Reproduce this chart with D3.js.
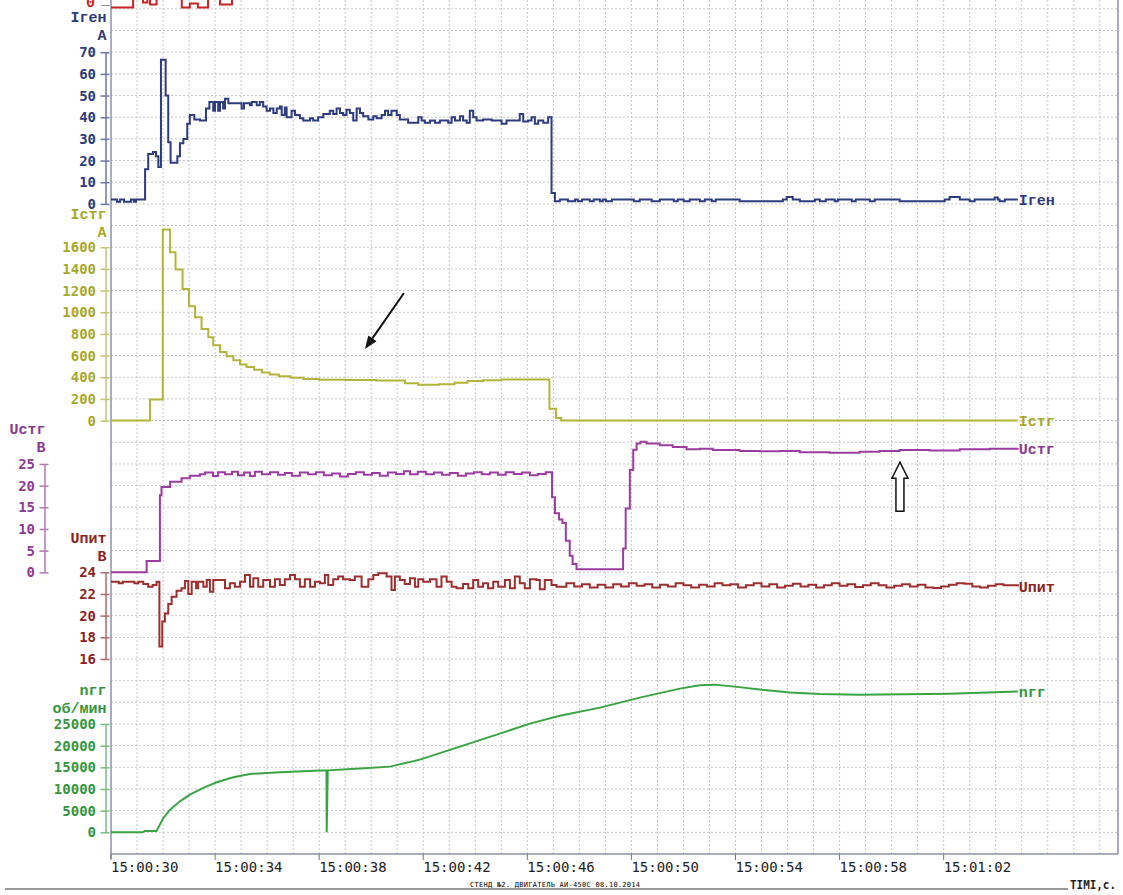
<!DOCTYPE html>
<html>
<head>
<meta charset="utf-8">
<script src="https://cdn.jsdelivr.net/npm/d3@7"></script>
<style>
  body { margin: 0; background: #fff; }
  svg { display: block; }
  .grid line { stroke: #c6c6c6; stroke-dasharray: 2,2; stroke-width: 1; }
  .ttl { font-family: "Liberation Mono", monospace; font-weight: bold; font-size: 15px; }
  .tk text { font-family: "DejaVu Sans Mono", monospace; font-weight: bold; font-size: 14px; }
  .time { font-family: "DejaVu Sans Mono", monospace; font-size: 14px; fill: #222; }
</style>
</head>
<body>
<script>
const width = 1123
const height = 895

/* Time in seconds after 15:00:30. */
const timeTicks = [0, 4, 8, 12, 16, 20, 24, 28, 32]
const timeLabels = ["15:00:30", "15:00:34", "15:00:38", "15:00:42", "15:00:46",
                    "15:00:50", "15:00:54", "15:00:58", "15:01:02"]

/* [time, value] pairs. */
const igen = [[0,2],[0.23,1],[0.35,2],[0.5,1],[0.77,2],[0.88,1],[0.96,2],[1.31,16],[1.43,23],[1.61,24],[1.73,22],[1.82,17],[1.92,66.5],[2.10,50],[2.20,28.5],[2.29,19],[2.55,22],[2.65,28],[2.78,30],[2.93,37],[3.03,41],[3.20,39],[3.42,38.5],[3.65,44],[3.78,47],[3.93,43],[4.0,47],[4.12,43],[4.19,47],[4.31,44],[4.38,48.5],[4.51,46.5],[5.02,44],[5.11,46.5],[5.34,45.5],[5.41,47],[5.6,45.5],[5.72,47],[5.85,45],[5.98,43],[6.11,44],[6.24,42],[6.37,44],[6.49,45],[6.56,41],[6.68,44.5],[6.75,40],[6.94,43],[7.07,41],[7.26,39.5],[7.39,38.5],[7.65,39.5],[7.77,38.5],[7.96,40],[8.16,41.5],[8.41,43],[8.54,41.5],[8.67,44],[8.8,42],[8.92,41],[9.05,43.5],[9.18,42],[9.31,38.5],[9.44,44],[9.57,42],[9.69,40.5],[9.89,39],[10.08,40.5],[10.21,39.5],[10.4,41],[10.53,43],[10.65,41],[10.78,43],[10.98,41],[11.1,39],[11.42,37.5],[11.81,40],[11.94,38.5],[12.06,37.5],[12.26,38.5],[12.45,37.5],[12.64,38.5],[12.96,37.5],[13.09,40],[13.22,38.5],[13.41,40.5],[13.53,38.5],[13.67,37.5],[13.79,43],[13.92,40],[14.05,38.5],[14.3,39],[14.63,38.5],[15.01,37],[15.2,38.5],[15.71,41.5],[15.84,38],[16.03,38.5],[16.16,40],[16.29,37],[16.42,38.5],[16.61,37.5],[16.8,40],[16.93,5],[17.06,1.2],[17.25,2],[17.56,1.2],[17.83,2],[17.94,1.2],[18.1,2],[18.4,1.2],[18.55,2],[18.79,1.2],[18.9,2],[19.02,1.2],[19.25,2],[20.09,1.2],[20.32,2],[20.78,1.2],[21.09,2],[21.63,1.2],[21.78,2],[22.01,1.2],[22.24,2],[22.63,1.2],[22.82,2],[23.09,1.2],[23.24,2],[24.16,1.2],[25.82,2],[25.97,3.2],[26.2,2],[26.47,1.2],[27.05,2],[27.24,1.2],[27.47,2],[27.81,1.2],[27.93,2],[28.47,1.2],[28.62,2],[29.16,1.2],[29.35,2],[30.31,1.2],[32.04,2],[32.23,3.2],[32.62,2],[33.0,1.2],[33.19,2],[33.96,3],[34.08,2],[34.15,1.2],[34.35,2],[34.85,2]]

const istg = [[0,0],[1.5,194],[1.99,1763],[2.27,1553],[2.48,1394],[2.75,1215],[3.0,1055],[3.23,953],[3.48,846],[3.74,769],[3.93,695],[4.19,634],[4.44,593],[4.7,557],[4.96,517],[5.21,495],[5.5,470],[5.8,445],[6.1,425],[6.45,410],[6.9,395],[7.4,385],[8.0,378],[9.0,375],[10.2,370],[11.3,345],[11.8,330],[12.6,335],[13.2,350],[13.7,365],[14.3,372],[15.0,380],[16.85,110],[17.1,25],[17.3,0],[34.85,0]]

const ustg = [[0,0],[1.37,2.6],[1.88,17.8],[1.94,19.7],[2.27,20.9],[2.71,21.7],[3.03,22.3],[3.42,22.6],[3.61,23.0],[3.92,22.2],[4.11,23.1],[4.38,22.6],[4.65,23.2],[4.88,22.4],[5.11,23.0],[5.34,22.2],[5.53,23.2],[5.8,22.6],[6.11,23.1],[6.42,22.5],[6.68,22.9],[6.95,22.3],[7.26,23.0],[7.57,22.6],[7.88,23.1],[8.18,22.4],[8.49,22.8],[8.8,22.1],[9.1,22.7],[9.41,23.1],[9.72,22.5],[10.03,22.9],[10.33,22.3],[10.64,23.0],[10.95,22.7],[11.26,23.3],[11.49,22.6],[11.79,23.2],[12.1,22.6],[12.41,23.0],[12.72,22.5],[13.02,22.9],[13.33,22.3],[13.64,22.8],[13.95,23.1],[14.25,22.6],[14.56,23.0],[14.87,22.5],[15.17,23.1],[15.48,22.7],[15.79,23.0],[16.1,22.4],[16.4,22.7],[16.71,23.1],[16.95,17.3],[17.06,13.6],[17.22,12.2],[17.35,11.4],[17.48,7.3],[17.63,3.8],[17.74,1.9],[17.89,0.7],[19.68,5.5],[19.78,14.7],[19.94,23.6],[20.07,28.3],[20.2,29.7],[20.35,30.1],[20.58,29.7],[21.09,29.3],[21.59,28.9],[22.12,28.4],[22.63,28.5],[23.13,28.2],[24.16,28.0],[24.93,27.9],[25.7,28.0],[26.47,27.7],[27.62,27.6],[28.77,27.8],[29.54,28.0],[30.31,28.2],[31.46,28.1],[32.62,28.4],[33.77,28.5],[34.85,28.6]]

const upit = [[0,23.13],[0.3,23.0],[0.45,23.13],[0.9,23.0],[1.05,23.13],[1.24,22.92],[1.43,22.67],[1.6,22.83],[1.75,23.13],[1.86,17.14],[1.97,19.45],[2.07,20.2],[2.2,21.08],[2.33,21.75],[2.52,22.3],[2.71,22.52],[2.84,23.2],[2.97,22.0],[3.1,23.13],[3.27,22.52],[3.35,23.13],[3.55,22.67],[3.68,23.29],[3.8,22.21],[3.93,23.29],[4.38,22.52],[4.57,22.98],[4.76,22.67],[4.96,23.13],[5.15,23.75],[5.34,22.67],[5.47,23.45],[5.66,22.67],[5.85,23.29],[6.11,22.67],[6.3,23.35],[6.49,22.83],[6.68,23.35],[6.88,23.75],[7.07,23.35],[7.26,22.67],[7.45,23.35],[7.65,22.67],[7.84,23.13],[8.03,22.98],[8.22,23.75],[8.35,22.83],[8.54,23.35],[8.73,23.6],[8.92,23.35],[9.18,23.29],[9.37,23.6],[9.63,22.67],[9.89,23.35],[10.08,23.75],[10.27,23.91],[10.59,23.6],[10.78,22.37],[10.91,23.6],[11.1,23.29],[11.29,22.92],[11.49,23.45],[11.68,22.67],[11.81,23.35],[12.0,23.13],[12.26,23.35],[12.51,22.67],[12.7,23.6],[12.9,23.13],[13.09,22.67],[13.28,22.52],[13.53,22.92],[13.73,22.52],[13.92,23.29],[14.11,22.67],[14.3,22.98],[14.49,22.52],[14.69,23.13],[14.88,22.67],[15.14,23.29],[15.33,22.52],[15.52,23.6],[15.71,22.98],[15.9,22.52],[16.1,23.35],[16.35,23.29],[16.48,22.43],[16.67,23.29],[16.93,22.83],[17.12,22.67],[17.5,23.0],[17.8,22.7],[18.1,22.9],[18.4,22.6],[18.7,22.85],[19.0,22.6],[19.3,22.9],[19.6,22.7],[19.9,23.0],[20.2,22.75],[20.5,22.9],[20.8,22.6],[21.1,22.85],[21.4,22.7],[21.7,23.0],[22.0,22.8],[22.3,22.6],[22.6,22.85],[22.9,22.7],[23.2,23.0],[23.5,22.8],[23.8,22.9],[24.1,22.6],[24.4,22.8],[24.7,23.0],[25.0,22.7],[25.3,22.9],[25.6,22.6],[25.9,22.75],[26.2,22.95],[26.5,22.7],[26.8,22.85],[27.1,22.6],[27.4,22.8],[27.7,23.0],[28.0,22.75],[28.3,22.9],[28.6,22.65],[28.9,22.8],[29.2,23.0],[29.5,22.8],[29.8,22.6],[30.1,22.75],[30.4,22.9],[30.7,22.7],[31.0,22.85],[31.3,22.6],[31.6,22.55],[31.9,22.7],[32.2,22.85],[32.5,23.0],[32.8,22.95],[33.1,22.7],[33.4,22.6],[33.7,22.75],[34.0,22.9],[34.3,22.8],[34.85,22.7]]

const ngg = [[0,0],[1.2,0],[1.3,300],[1.75,300],[2.01,3300],[2.27,5240],[2.65,7150],[3.03,8700],[3.55,10240],[4.06,11540],[4.7,12690],[5.34,13470],[6.49,13890],[8.03,14240],[8.28,14280],[8.29,0],[8.33,14300],[9.57,14700],[10.72,15160],[11.87,16770],[13.41,19770],[14.94,22770],[16.1,25080],[17.25,26920],[18.79,28770],[20.32,31080],[21.86,33160],[22.63,33960],[23.2,34080],[23.97,33620],[24.93,32930],[26.09,32240],[27.24,31890],[28.77,31770],[32.23,32000],[34.85,32470]]

/* Channel above the visible window, only its low parts show at the top edge. */
const topRed = [[0,0],[0.85,2],[1.23,0.5],[1.4,2],[1.5,0.3],[1.75,2],[2.72,0],[3.03,0.4],[3.34,0],[3.73,2],[4.19,0.3],[4.65,3],[20,3]]

/* Axis tick values. */
const igenTicks = [0, 10, 20, 30, 40, 50, 60, 70]
const istgTicks = [0, 200, 400, 600, 800, 1000, 1200, 1400, 1600]
const ustgTicks = [0, 5, 10, 15, 20, 25]
const upitTicks = [16, 18, 20, 22, 24]
const nggTicks = [0, 5000, 10000, 15000, 20000, 25000]

/* Annotation arrows in data units: [time, value]. */
const arrowIstg = [[11.26, 1178], [9.76, 661]]
const arrowUstg = [[30.32, 25.4], [30.32, 14.1]]

/* Layout: grid rows are one cell each. */
const left = 111, right = 1118, bottom = 854, rowH = 21.67
const rowY = k => bottom - rowH * k

const svg = d3.select("body")
  .append("svg")
  .attr("width", width)
  .attr("height", height)

svg.append("rect").attr("width", width).attr("height", height).attr("fill", "#fff")

const x = d3.scaleLinear().domain([0, 38.7]).range([left, right])

/* Grid. */
const grid = svg.append("g").attr("class", "grid")
grid.selectAll("line.v")
  .data(d3.range(1, 39))
  .enter().append("line")
  .attr("x1", d => x(d)).attr("x2", d => x(d))
  .attr("y1", 0).attr("y2", bottom)
grid.selectAll("line.h")
  .data(d3.range(1, 40))
  .enter().append("line")
  .attr("x1", left).attr("x2", right)
  .attr("y1", d => rowY(d)).attr("y2", d => rowY(d))

/* Frame. */
svg.append("line").attr("x1", left).attr("x2", left).attr("y1", 0).attr("y2", bottom + 5)
  .attr("stroke", "#8b90ad").attr("stroke-width", 1.5)
svg.append("line").attr("x1", right).attr("x2", right).attr("y1", 0).attr("y2", bottom)
  .attr("stroke", "#8b90ad").attr("stroke-width", 1.5)
svg.append("line").attr("x1", left).attr("x2", right).attr("y1", bottom).attr("y2", bottom)
  .attr("stroke", "#8b90ad").attr("stroke-width", 1.5)

/* Time axis. */
const tg = svg.append("g")
tg.selectAll("line")
  .data(timeTicks)
  .enter().append("line")
  .attr("x1", d => x(d)).attr("x2", d => x(d))
  .attr("y1", bottom).attr("y2", bottom + 6)
  .attr("stroke", "#777")
tg.selectAll("text")
  .data(timeTicks)
  .enter().append("text")
  .attr("class", "time")
  .attr("x", d => x(d))
  .attr("y", bottom + 17.5)
  .text((d, i) => timeLabels[i])

svg.append("line").attr("x1", 5).attr("x2", 1068).attr("y1", 889).attr("y2", 889)
  .attr("stroke", "#9a9a9a").attr("stroke-width", 2)
svg.append("text")
  .attr("x", 555).attr("y", 887)
  .attr("text-anchor", "middle")
  .attr("font-family", "DejaVu Sans Mono").attr("font-size", 7)
  .attr("textLength", 170)
  .text("СТЕНД №2.  ДВИГАТЕЛЬ АИ-450С 08.10.2014")
svg.append("text")
  .attr("x", 1070).attr("y", 889)
  .attr("font-family", "DejaVu Sans Mono").attr("font-weight", "bold").attr("font-size", 13)
  .attr("textLength", 46).attr("lengthAdjust", "spacingAndGlyphs")
  .attr("fill", "#222")
  .text("TIMI,c.")

/* Channels. */
const channels = [
  {name: "Iген", unit: "A", data: igen, domain: [0, 70], rows: [30, 37], ticks: igenTicks,
   line: "#2d3b80", text: "#2f3a78", axis: "#6e76a6", ax: 105.5, step: true, off: 0},
  {name: "Iстг", unit: "A", data: istg, domain: [0, 1600], rows: [20, 28], ticks: istgTicks,
   line: "#b4b43a", text: "#a8a828", axis: "#c4c470", ax: 105.5, step: true, off: 2},
  {name: "Uстг", unit: "B", data: ustg, domain: [0, 25], rows: [13, 18], ticks: ustgTicks,
   line: "#9b3ca0", text: "#8c3a92", axis: "#b07ab4", ax: 44.5, step: true, off: 0},
  {name: "Uпит", unit: "B", data: upit, domain: [16, 24], rows: [9, 13], ticks: upitTicks,
   line: "#9c2e2e", text: "#8a2424", axis: "#b06a6a", ax: 105.5, step: true, off: 0},
  {name: "nгг", unit: "об/мин", data: ngg, domain: [0, 25000], rows: [1, 6], ticks: nggTicks,
   line: "#3aa444", text: "#33963c", axis: "#7abb80", ax: 105.5, step: false, off: 1}
]

svg.append("clipPath").attr("id", "plot")
  .append("rect").attr("x", left).attr("y", 0).attr("width", right - left).attr("height", bottom)

channels.forEach(c => {
  c.y = d3.scaleLinear().domain(c.domain).range([rowY(c.rows[0]), rowY(c.rows[1])])

  const axis = d3.axisLeft(c.y).tickValues(c.ticks).tickFormat(d3.format("d"))
    .tickSizeInner(5).tickSizeOuter(0).tickPadding(4.5)
  const g = svg.append("g")
    .attr("class", "tk")
    .attr("transform", `translate(${c.ax},0)`)
    .style("color", c.text)
    .call(axis)
  g.select(".domain").attr("stroke", c.axis).attr("stroke-width", 1.5)
  g.selectAll(".tick line").attr("x1", 4).attr("x2", -5).attr("stroke", c.axis).attr("stroke-width", 1.5)

  const top = c.y(c.domain[1])
  svg.append("text").attr("class", "ttl").attr("fill", c.text)
    .attr("x", c.ax + 1).attr("y", top - 35 + c.off).attr("dy", "0.35em")
    .attr("text-anchor", "end").text(c.name)
  svg.append("text").attr("class", "ttl").attr("fill", c.text)
    .attr("x", c.ax + 1).attr("y", top - 17 + c.off).attr("dy", "0.35em")
    .attr("text-anchor", "end").text(c.unit)

  const line = d3.line()
    .x(d => x(d[0]))
    .y(d => c.y(d[1]))
    .curve(c.step ? d3.curveStepAfter : d3.curveLinear)
  svg.append("path")
    .attr("clip-path", "url(#plot)")
    .attr("d", line(c.data))
    .attr("fill", "none")
    .attr("stroke", c.line)
    .attr("stroke-width", 2)

  const last = c.data[c.data.length - 1]
  svg.append("text").attr("class", "ttl").attr("fill", c.text)
    .attr("x", x(last[0]) + 1).attr("y", c.y(last[1])).attr("dy", "0.35em")
    .text(c.name)
})

/* Red channel cut off at the top. */
const yRed = d3.scaleLinear().domain([0, 1]).range([7.5, -2.5])
svg.append("path")
  .attr("clip-path", "url(#plot)")
  .attr("d", d3.line().x(d => x(d[0])).y(d => yRed(d[1])).curve(d3.curveStepAfter)(topRed))
  .attr("fill", "none").attr("stroke", "#c82424").attr("stroke-width", 2)
svg.append("text").attr("class", "ttl").attr("fill", "#c82424")
  .attr("x", 95).attr("y", yRed(0) - 1).attr("text-anchor", "end").text("0")
svg.append("line").attr("x1", 101).attr("x2", 110).attr("y1", yRed(0) - 2).attr("y2", yRed(0) - 2)
  .attr("stroke", "#999")

/* Arrows. */
const yI = channels[1].y, yU = channels[2].y
const a0 = [x(arrowIstg[0][0]), yI(arrowIstg[0][1])]
const a1 = [x(arrowIstg[1][0]), yI(arrowIstg[1][1])]
const len = Math.hypot(a1[0] - a0[0], a1[1] - a0[1])
const ux = (a1[0] - a0[0]) / len, uy = (a1[1] - a0[1]) / len
const bx = a1[0] - 13 * ux, by = a1[1] - 13 * uy
svg.append("line").attr("x1", a0[0]).attr("y1", a0[1]).attr("x2", bx).attr("y2", by)
  .attr("stroke", "#111").attr("stroke-width", 2)
svg.append("path")
  .attr("d", `M${a1[0]},${a1[1]}L${bx + 5 * uy},${by - 5 * ux}L${bx - 5 * uy},${by + 5 * ux}Z`)
  .attr("fill", "#111")

const hx = x(arrowUstg[0][0]), hTip = yU(arrowUstg[0][1]), hTail = yU(arrowUstg[1][1])
svg.append("path")
  .attr("d", `M${hx},${hTip}L${hx + 8},${hTip + 16}L${hx + 4},${hTip + 16}L${hx + 4},${hTail}` +
             `L${hx - 4},${hTail}L${hx - 4},${hTip + 16}L${hx - 8},${hTip + 16}Z`)
  .attr("fill", "#fff").attr("stroke", "#111").attr("stroke-width", 1.5)
</script>
</body>
</html>
